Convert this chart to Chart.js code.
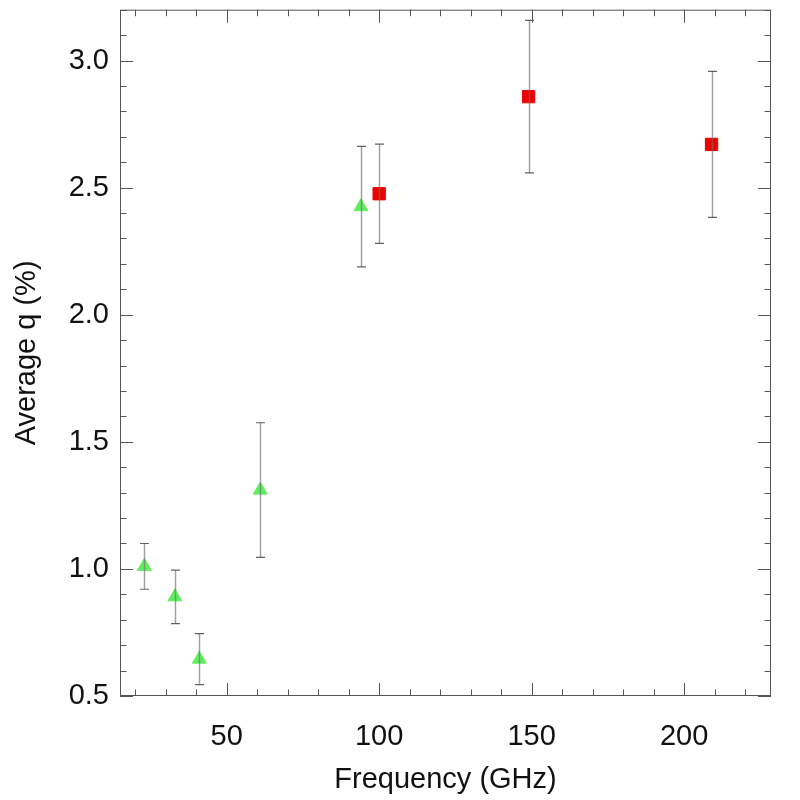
<!DOCTYPE html>
<html>
<head>
<meta charset="utf-8">
<script src="https://cdn.jsdelivr.net/npm/chart.js@4.4.1/dist/chart.umd.min.js"></script>
<style>
  html, body { margin: 0; padding: 0; background: #fff; }
  #wrap { width: 800px; height: 800px; }
</style>
</head>
<body>
<div id="wrap"><canvas id="chart-q" width="800" height="800"></canvas></div>
<script>
// triangles (low frequency bands)
const freq_tri = [23, 33, 41, 61, 94]
const q_tri = [1.01, 0.89, 0.645, 1.31, 2.425]
const err_tri = [0.09, 0.105, 0.1, 0.265, 0.237]

// squares (high frequency bands)
const freq_sq = [100, 149, 209]
const q_sq = [2.476, 2.858, 2.67]
const err_sq = [0.195, 0.30, 0.287]

const x_ticks = [50, 100, 150, 200]
const y_ticks = [0.5, 1.0, 1.5, 2.0, 2.5, 3.0]

const font_name = "'Liberation Sans', Arial, Helvetica, sans-serif"

const error_bars = {
  id: 'error_bars',
  afterDatasetsDraw(chart){
    const ctx = chart.ctx
    const xs = chart.scales.x, ys = chart.scales.y
    ctx.save()
    chart.data.datasets.forEach(ds => {
      ds.data.forEach((p, i) => {
        const px = Math.round(xs.getPixelForValue(p.x)) + 0.5
        const top = ys.getPixelForValue(p.y + ds.errors[i])
        const bot = ys.getPixelForValue(p.y - ds.errors[i])
        ctx.strokeStyle = 'rgba(110,110,110,0.65)'
        ctx.lineWidth = 1.5
        ctx.beginPath()
        ctx.moveTo(px, top)
        ctx.lineTo(px, bot)
        ctx.stroke()
        ctx.strokeStyle = 'rgba(70,70,70,0.85)'
        ctx.lineWidth = 1.2
        ctx.beginPath()
        ctx.moveTo(px - 4.5, top); ctx.lineTo(px + 4.5, top)
        ctx.moveTo(px - 4.5, bot); ctx.lineTo(px + 4.5, bot)
        ctx.stroke()
      })
    })
    ctx.restore()
  }
}

// box with inward ticks on all four sides
const frame_ticks = {
  id: 'frame_ticks',
  afterDraw(chart){
    const ctx = chart.ctx
    const a = chart.chartArea
    const xs = chart.scales.x, ys = chart.scales.y
    const major = 13, minor = 6.5
    ctx.save()
    ctx.strokeStyle = '#555'
    ctx.lineWidth = 1
    ctx.strokeRect(a.left + 0.5, a.top + 0.5, a.right - a.left - 1, a.bottom - a.top - 1)
    ctx.beginPath()
    for (let v = 20; v <= 220; v += 10){
      const len = v % 50 === 0 ? major : minor
      const px = Math.round(xs.getPixelForValue(v)) + 0.5
      ctx.moveTo(px, a.bottom); ctx.lineTo(px, a.bottom - len)
      ctx.moveTo(px, a.top); ctx.lineTo(px, a.top + len)
    }
    for (let k = 5; k <= 32; k++){
      const v = k / 10
      const len = k % 5 === 0 ? major : minor
      const py = Math.round(ys.getPixelForValue(v)) + 0.5
      ctx.moveTo(a.left, py); ctx.lineTo(a.left + len, py)
      ctx.moveTo(a.right, py); ctx.lineTo(a.right - len, py)
    }
    ctx.stroke()
    ctx.restore()
  }
}

function make_chart(){
  const canvas = document.getElementById('chart-q')
  return new Chart(canvas, {
    type: 'scatter',
    data: {
      datasets: [
        {
          data: freq_tri.map((f, i) => ({x: f, y: q_tri[i]})),
          errors: err_tri,
          pointStyle: 'triangle',
          pointRadius: 8,
          backgroundColor: '#60ee60',
          borderColor: '#60ee60',
          borderWidth: 1,
        },
        {
          data: freq_sq.map((f, i) => ({x: f, y: q_sq[i]})),
          errors: err_sq,
          pointStyle: 'rect',
          pointRadius: 8.7,
          backgroundColor: '#ee0000',
          borderColor: '#ee0000',
          borderWidth: 1,
        },
      ]
    },
    options: {
      responsive: false,
      animation: false,
      layout: { padding: { top: 8, right: 29, left: 0, bottom: 0 } },
      plugins: {
        legend: { display: false },
        tooltip: { enabled: false },
      },
      scales: {
        x: {
          type: 'linear',
          min: 15,
          max: 228.5,
          grid: { display: false, drawTicks: false },
          border: { display: false },
          afterBuildTicks: s => { s.ticks = x_ticks.map(v => ({value: v})) },
          afterFit: s => { s.height = 104; s.paddingLeft = 0; s.paddingRight = 0 },
          ticks: {
            padding: 24,
            color: '#111',
            font: { family: font_name, size: 29 },
          },
          title: {
            display: true,
            text: 'Frequency (GHz)',
            color: '#111',
            font: { family: font_name, size: 29 },
            padding: { top: 0, bottom: 3 },
          }
        },
        y: {
          type: 'linear',
          min: 0.5,
          max: 3.2,
          grid: { display: false, drawTicks: false },
          border: { display: false },
          afterBuildTicks: s => { s.ticks = y_ticks.map(v => ({value: v})) },
          afterFit: s => { s.width = 120; s.paddingTop = 0; s.paddingBottom = 0 },
          ticks: {
            padding: 11,
            color: '#111',
            font: { family: font_name, size: 29 },
            callback: v => v.toFixed(1),
          },
          title: {
            display: true,
            text: 'Average q (%)',
            color: '#111',
            font: { family: font_name, size: 29 },
            padding: { top: 10, bottom: 0 },
          }
        }
      }
    },
    plugins: [error_bars, frame_ticks]
  })
}

let chart = make_chart()
</script>
</body>
</html>
